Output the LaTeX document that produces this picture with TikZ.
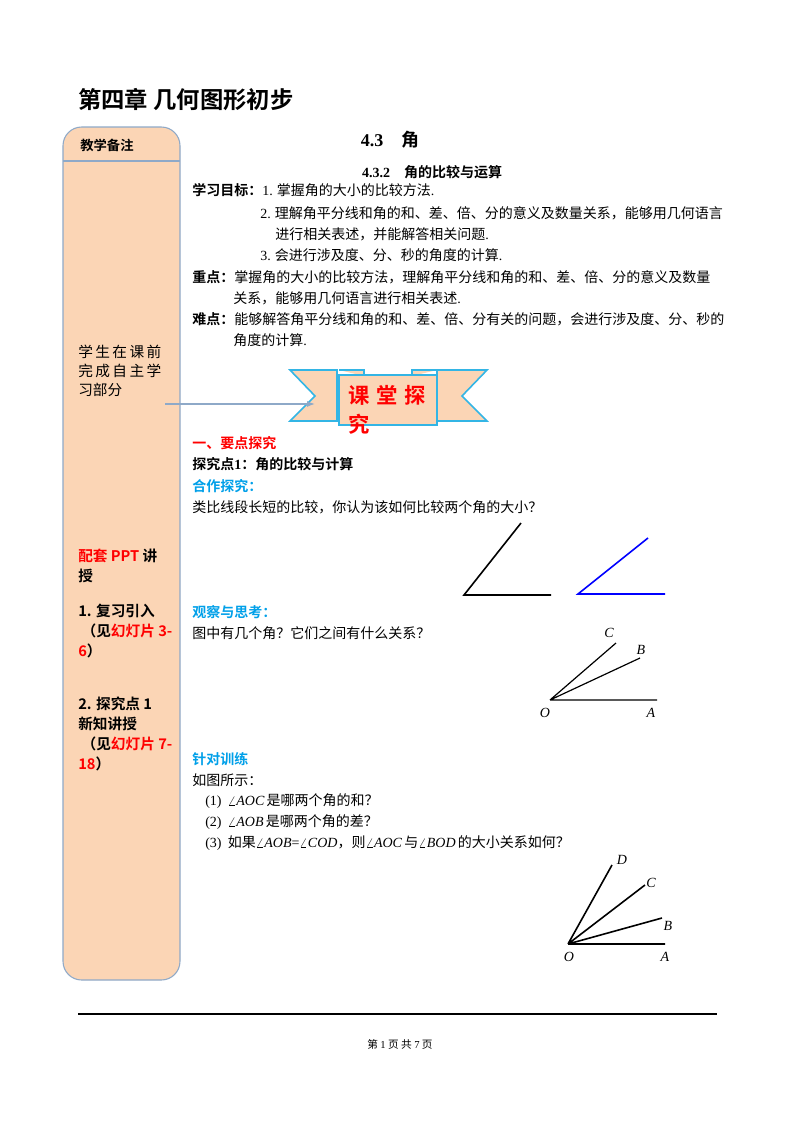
\documentclass[tikz,border=0pt]{standalone}
\usepackage{fontspec}
\setmainfont{Liberation Serif}
\newfontfamily\cjk{Noto Sans CJK SC}[BoldFont={* Bold}]
\newfontfamily\lat{Liberation Serif}
\newcommand{\LL}[1]{{\lat #1}}
\newcommand{\LI}[1]{{\lat\itshape #1}}
\usetikzlibrary{arrows.meta}
\definecolor{peach}{HTML}{FBD5B5}
\definecolor{edgeb}{HTML}{8EA9C8}
\definecolor{hblue}{HTML}{00A0E9}
\definecolor{ribb}{HTML}{33B5E5}
\tikzset{
 t/.style={anchor=west,inner sep=0pt,font=\cjk\fontsize{10.5}{12}\selectfont},
 tb/.style={t,font=\cjk\bfseries\fontsize{10.5}{12}\selectfont},
 side/.style={anchor=north west,inner sep=0pt,align=left,font=\cjk\bfseries\fontsize{11}{15}\selectfont},
 lab/.style={inner sep=0pt,font=\lat\itshape\fontsize{10.5}{12}\selectfont},
 ray/.style={line width=1.2pt},
}
\begin{document}
\begin{tikzpicture}[x=0.75pt,y=-0.75pt]
\useasboundingbox (0,0) rectangle (800,1132);
\fill[white] (0,0) rectangle (800,1132);
\node[anchor=west,inner sep=0pt,font=\cjk\bfseries\fontsize{17.5}{20}\selectfont] (title) at (78,100) {第四章\ 几何图形初步};
% sidebar
\draw[edgeb,fill=peach,line width=0.8pt,rounded corners=14] (63,980) -- (63,127) -- (180,127) -- (180,980) -- cycle;
\draw[edgeb,line width=0.8pt] (63,161) -- (180,161);
\node[anchor=west,inner sep=0pt,font=\cjk\bfseries\fontsize{10}{12}\selectfont] (hd) at (80,145) {教学备注};
\node[anchor=north west,inner sep=0pt,align=left,font=\cjk\fontsize{11}{14}\selectfont] (pre) at (78,345) {学\,生\,在\,课\,前\\完\,成\,自\,主\,学\\习部分};
\node[side] (ppt) at (78,549) {\textcolor{red}{配套 PPT} 讲\\授};
\node[side] (s1) at (78,604) {1. 复习引入\\\ （见\textcolor{red}{幻灯片 3-}\\\textcolor{red}{6}）};
\node[side] (s2) at (78,697) {2. 探究点 1\\新知讲授\\\ （见\textcolor{red}{幻灯片 7-}\\\textcolor{red}{18}）};
% headings
\node[inner sep=0pt,font=\cjk\bfseries\fontsize{13.5}{15}\selectfont] (h1) at (390,140) {{\lat 4.3}\quad 角};
\node[inner sep=0pt,font=\cjk\bfseries\fontsize{10.5}{12}\selectfont] (h2) at (432,172) {{\lat 4.3.2}\quad 角的比较与运算};
\node[tb] (g0) at (192,190) {学习目标：\textmd{\LL{1.} 掌握角的大小的比较方法\LL{.}}};
\node[t] (g2) at (260,213) {\LL{2.} 理解角平分线和角的和、差、倍、分的意义及数量关系，能够用几何语言};
\node[t] (g2b) at (275,234) {进行相关表述，并能解答相关问题\LL{.}};
\node[t] (g3) at (260,255) {\LL{3.} 会进行涉及度、分、秒的角度的计算\LL{.}};
\node[tb] (z1) at (192,277) {重点：\textmd{掌握角的大小的比较方法，理解角平分线和角的和、差、倍、分的意义及数量}};
\node[t] (z2) at (233,298) {关系，能够用几何语言进行相关表述\LL{.}};
\node[tb] (n1) at (192,319) {难点：\textmd{能够解答角平分线和角的和、差、倍、分有关的问题，会进行涉及度、分、秒的}};
\node[t] (n2) at (233,340) {角度的计算\LL{.}};
% banner
\draw[ribb,line width=1.2pt,fill=peach] (290,370) -- (337,370) -- (337,421) -- (290,421) -- (315,396) -- cycle;
\draw[ribb,line width=1.2pt,fill=peach] (487,370) -- (437,370) -- (437,421) -- (487,421) -- (462,396) -- cycle;
\draw[ribb,line width=1.2pt,fill=peach] (339,370) -- (364,370) -- (364,376);
\draw[ribb,line width=1.2pt,fill=peach] (412,376) -- (412,370) -- (437,370);
\draw[ribb,line width=1.2pt,fill=peach] (339,375) rectangle (437,425);
\node[anchor=north west,inner sep=0pt,align=left,text=red,font=\cjk\bfseries\fontsize{16}{22}\selectfont] (kt) at (348,385) {课\hspace{5pt}堂\hspace{5pt}探\\究};
\coordinate (ae) at (315,404);
\draw[edgeb,line width=0.9pt,-{Latex[length=6pt]}] (165,404) -- (ae);
% section
\node[tb,text=red] (s) at (192,443) {一、要点探究};
\node[tb] (p1) at (192,464) {探究点\LL{\bfseries 1}：角的比较与计算};
\node[tb,text=hblue] (hz) at (192,486) {合作探究：};
\node[t] (q1) at (192,507) {类比线段长短的比较，你认为该如何比较两个角的大小？};
% two angles
\coordinate (v1) at (464,595); \coordinate (a1) at (551,595); \coordinate (b1) at (521,523);
\draw[ray] (a1) -- (v1) -- (b1);
\coordinate (v2) at (578,594); \coordinate (a2) at (665,594); \coordinate (b2) at (648,538);
\draw[ray,blue] (a2) -- (v2) -- (b2);
\node[tb,text=hblue] (gc) at (192,612) {观察与思考：};
\node[t] (q2) at (192,633) {图中有几个角？它们之间有什么关系？};
% figure 1
\coordinate (O1) at (550,700); \coordinate (A1) at (657,700); \coordinate (B1) at (640,658); \coordinate (C1) at (616,643);
\draw[line width=0.9pt] (O1) -- (A1) (O1) -- (B1) (O1) -- (C1);
\node[lab] (lC1) at (609,633) {C};
\node[lab] (lB1) at (641,650) {B};
\node[lab] (lO1) at (545,713) {O};
\node[lab] (lA1) at (651,713) {A};
% exercise
\node[tb,text=hblue] (zd) at (192,759) {针对训练};
\node[t] (rt) at (192,780) {如图所示：};
\node[t] (e1) at (205,801) {\LL{(1)}\ \ $\angle$\LI{AOC}\,是哪两个角的和？};
\node[t] (e2) at (205,822) {\LL{(2)}\ \ $\angle$\LI{AOB}\,是哪两个角的差？};
\node[t] (e3) at (205,843) {\LL{(3)}\ \ 如果$\angle$\LI{AOB}\LL{=}$\angle$\LI{COD}，则$\angle$\LI{AOC}\,与$\angle$\LI{BOD}\,的大小关系如何？};
% figure 2
\coordinate (O2) at (568,944); \coordinate (A2) at (665,944); \coordinate (B2) at (662,918); \coordinate (C2) at (645,885); \coordinate (D2) at (612,865);
\draw[line width=1.2pt] (O2) -- (A2) (O2) -- (B2) (O2) -- (C2) (O2) -- (D2);
\node[lab] (lD2) at (622,860) {D};
\node[lab] (lC2) at (651,883) {C};
\node[lab] (lB2) at (668,926) {B};
\node[lab] (lO2) at (569,957) {O};
\node[lab] (lA2) at (665,957) {A};
% footer
\draw[line width=0.8pt] (78,1014) -- (717,1014);
\node[inner sep=0pt,font=\cjk\fontsize{8}{10}\selectfont] (ft) at (400,1044) {第\ \LL{1}\ 页\ 共\ \LL{7}\ 页};
\end{tikzpicture}
\end{document}
